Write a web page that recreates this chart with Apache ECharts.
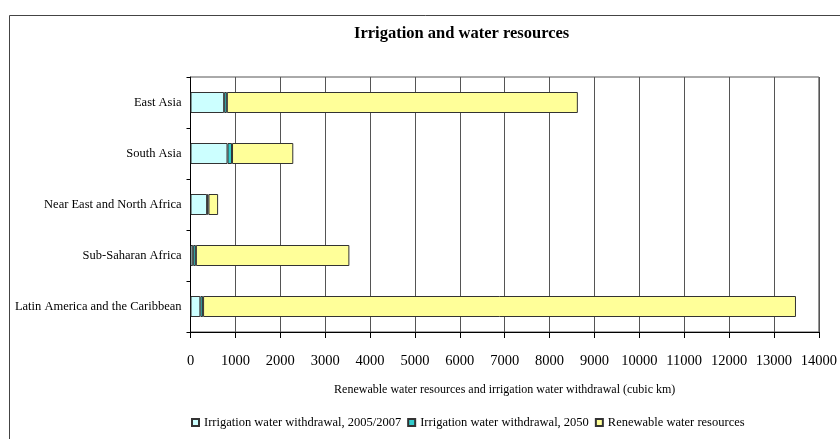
<!DOCTYPE html>
<html>
<head>
<meta charset="utf-8">
<script src="https://cdn.jsdelivr.net/npm/echarts@6/dist/echarts.min.js"></script>
<style>
  html, body { margin: 0; padding: 0; background: #fff; }
  #irrigation { width: 840px; height: 439px; }
</style>
</head>
<body>
<div id="irrigation"></div>
<script>
/* global echarts */
// regions, top to bottom
const regions = ['East Asia', 'South Asia', 'Near East and North Africa', 'Sub-Saharan Africa', 'Latin America and the Caribbean']
// stacked segments (cubic km)
const withdrawal2005 = [750, 825, 370, 60, 220]
const withdrawal2050 = [60, 100, 30, 60, 60]
const renewable = [7820, 1365, 215, 3420, 13210]
const seriesNames = ['Irrigation water withdrawal, 2005/2007', 'Irrigation water withdrawal, 2050', 'Renewable water resources']
const seriesColors = ['#ccffff', '#33cccc', '#ffff99']

const serif = 'Liberation Serif, Times New Roman, serif'
const myChart = echarts.init(document.getElementById('irrigation'))

const makeBar = (i, values) => ({
  name: seriesNames[i],
  type: 'bar',
  stack: 'total',
  barWidth: 21,
  data: values,
  itemStyle: {
    color: seriesColors[i],
    borderColor: '#333',
    borderWidth: 1
  }
})

const option = {
  backgroundColor: '#fff',
  animation: false,
  textStyle: { fontFamily: serif, color: '#000' },
  graphic: [
    {
      type: 'rect',
      shape: { x: 9.5, y: 15.5, width: 1000, height: 1000 },
      style: { fill: 'none', stroke: '#444', lineWidth: 1 },
      silent: true
    }
  ],
  title: {
    text: 'Irrigation and water resources',
    left: 349,
    top: 20,
    textStyle: { fontFamily: serif, fontSize: 16.5, fontWeight: 'bold', color: '#000' }
  },
  legend: {
    data: seriesNames,
    left: 186,
    top: 411,
    icon: 'rect',
    itemWidth: 7,
    itemHeight: 7,
    itemGap: 6,
    textStyle: { fontFamily: serif, fontSize: 12.5, color: '#000' }
  },
  grid: {
    left: 190.5,
    right: 20,
    top: 77,
    bottom: 107,
    show: true,
    borderColor: '#555',
    borderWidth: 1
  },
  xAxis: {
    type: 'value',
    min: 0,
    max: 14000,
    interval: 1000,
    name: 'Renewable water resources and irrigation water withdrawal (cubic km)',
    nameLocation: 'middle',
    nameGap: 52,
    nameTextStyle: { fontFamily: serif, fontSize: 12, color: '#000' },
    axisLine: { show: true, lineStyle: { color: '#000', width: 1 } },
    axisTick: { show: true, length: 6, lineStyle: { color: '#000' } },
    axisLabel: {
      fontFamily: serif,
      fontSize: 14.5,
      color: '#000',
      margin: 22,
      formatter: v => String(v)
    },
    splitLine: { show: true, lineStyle: { color: '#555', width: 1 } }
  },
  yAxis: {
    type: 'category',
    inverse: true,
    data: regions,
    axisLine: { show: true, lineStyle: { color: '#000', width: 1 } },
    axisTick: { show: true, length: 4, lineStyle: { color: '#000' } },
    axisLabel: { fontFamily: serif, fontSize: 12.5, color: '#000', margin: 9 },
    splitLine: { show: false }
  },
  series: [
    makeBar(0, withdrawal2005),
    makeBar(1, withdrawal2050),
    makeBar(2, renewable)
  ]
}

myChart.setOption(option)
window.onresize = myChart.resize
</script>
</body>
</html>
